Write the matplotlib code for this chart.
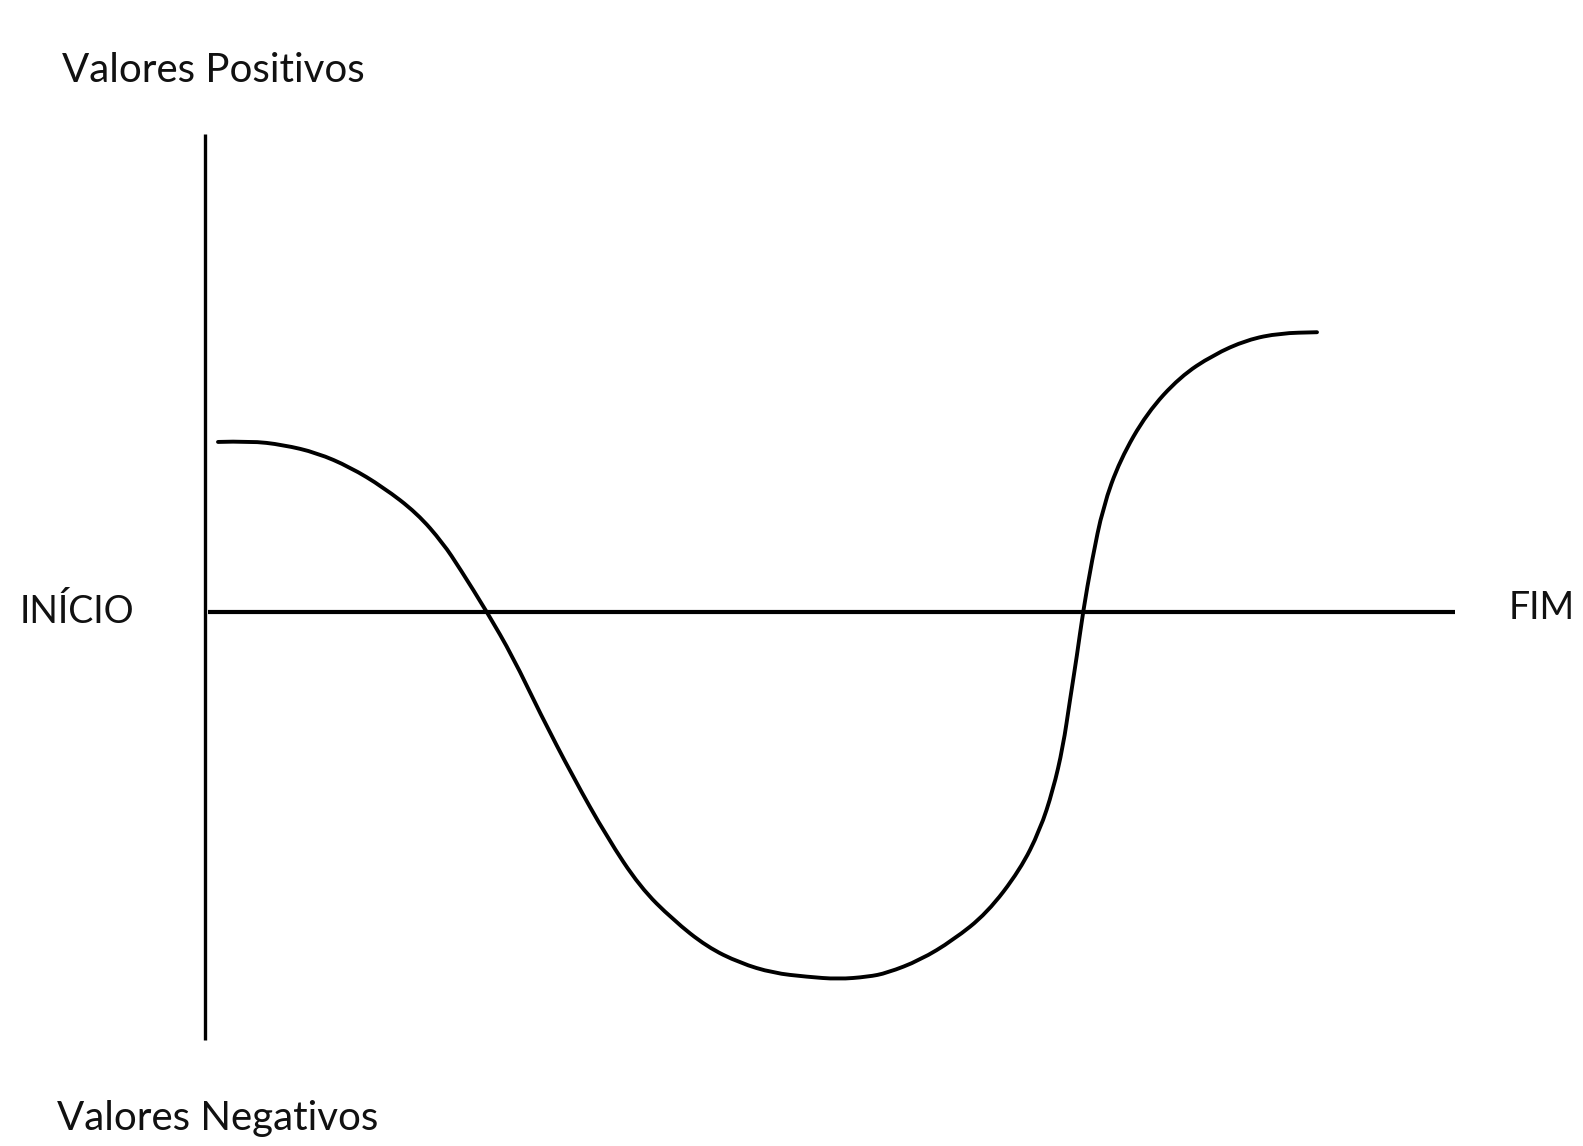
import numpy as np
import matplotlib
matplotlib.use('agg')
import matplotlib.pyplot as plt
from matplotlib.path import Path
from matplotlib.patches import PathPatch

# curve: x = time (0 = INÍCIO, 100 = FIM), y = value
tempo = [1.04, 3.6, 6.24, 8.96, 11.6, 14.24, 16.96, 19.04, 20.4, 22.56,
         24.64, 26.8, 29.44, 32.16, 34.8, 37.44, 40.16, 42.8, 45.44, 48.16,
         50.64, 53.04, 54.56, 57.2, 59.84, 62.56, 65.2, 66.8, 67.84, 68.64,
         69.2, 69.76, 70.24, 70.96, 71.84, 73.2, 75.36, 78.0, 80.64, 83.36,
         86.0, 88.96]
valor = [35.8, 36.0, 35.2, 33.5, 30.5, 26.3, 20.8, 14.5, 9.1, 0.0,
         -9.5, -21.3, -34.7, -47.4, -57.9, -64.8, -70.5, -73.9, -76.0, -76.8,
         -77.3, -76.8, -76.0, -73.3, -69.1, -63.4, -54.3, -45.9, -37.5, -28.4,
         -18.5, -9.1, 0.0, 10.9, 22.1, 32.0, 41.9, 49.5, 54.1, 57.3,
         58.7, 58.9]

eixo_y = [-90.1, 100.6]   # extent of the drawn vertical axis
eixo_x = [0.2, 100.0]     # extent of the drawn horizontal axis

W, H = 1583, 1146
fig = plt.figure(figsize=(W / 100, H / 100), dpi=100)
ax = fig.add_axes([0, 0, 1, 1])

# pixel mapping: origin at (205, 612), 12.5 px per x unit, 4.75 px per y unit
x0, y0, sx, sy = 205, 612, 12.5, 4.75
ax.set_xlim(-x0 / sx, (W - x0) / sx)
ax.set_ylim((y0 - H) / sy, y0 / sy)
ax.axis('off')

ax.plot([0, 0], eixo_y, color='black', lw=2.4, solid_capstyle='butt')
ax.plot(eixo_x, [0, 0], color='black', lw=3.0, solid_capstyle='butt')

# smooth freehand look: read points as quadratic bezier control points
pts = np.column_stack([tempo, valor])
mids = (pts[:-1] + pts[1:]) / 2
verts = [pts[0]]
codes = [Path.MOVETO]
for i in range(1, len(pts) - 1):
    verts += [pts[i], mids[i]]
    codes += [Path.CURVE3, Path.CURVE3]
verts.append(pts[-1])
codes.append(Path.LINETO)
ax.add_patch(PathPatch(Path(verts, codes), fill=False, edgecolor='black',
                       lw=2.8, capstyle='round', joinstyle='round'))

font = dict(family=['Lato', 'DejaVu Sans'], color='#111111')
fig.text(62 / W, 1 - 82 / H, 'Valores Positivos', fontsize=29, va='baseline', **font)
fig.text(57 / W, 1 - 1130 / H, 'Valores Negativos', fontsize=29, va='baseline', **font)
fig.text(20 / W, 1 - 623 / H, 'INÍCIO', fontsize=27, va='baseline', **font)
fig.text(1509 / W, 1 - 619 / H, 'FIM', fontsize=27, va='baseline', **font)

fig.savefig('out.png', dpi=100, facecolor='white')
